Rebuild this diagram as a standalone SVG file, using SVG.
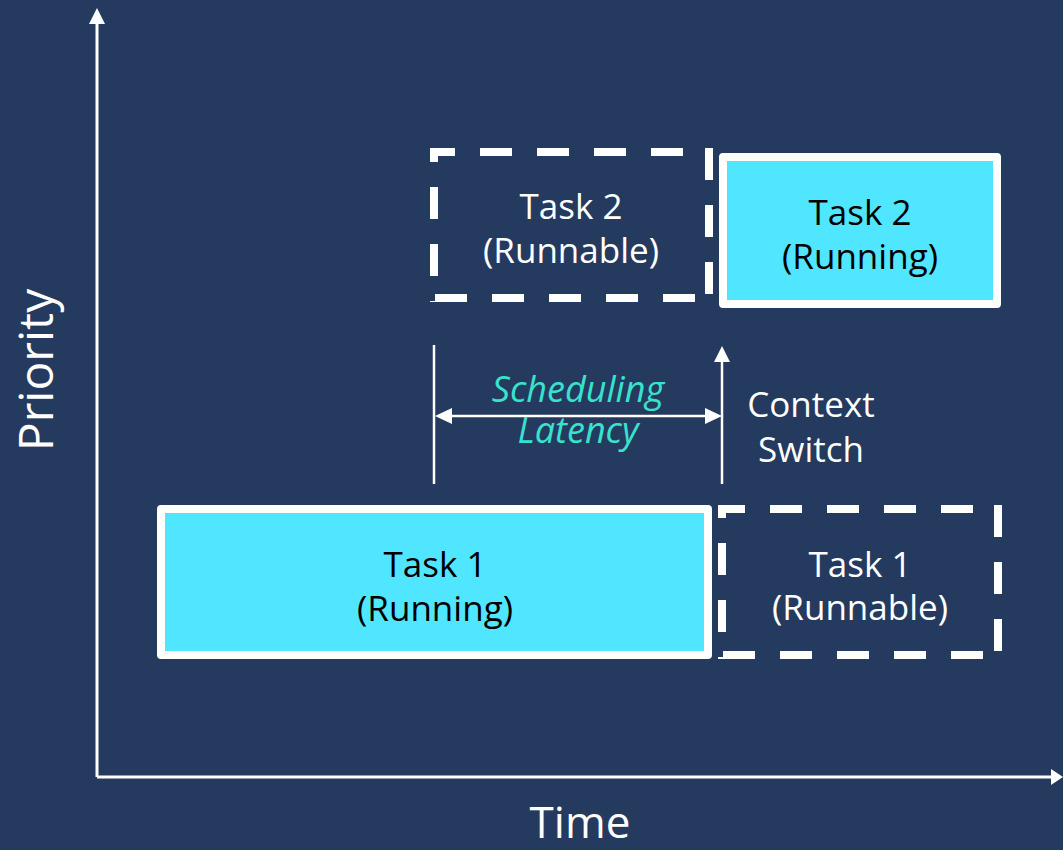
<svg xmlns="http://www.w3.org/2000/svg" width="1063" height="850" viewBox="0 0 1063 850">
  <style>
    .lbl { font-family: "Open Sans", "Noto Sans", sans-serif; font-size: 35px; text-anchor: middle; }
    .dark { fill: #000000; }
    .light { fill: #FFFFFF; }
    .solid { fill: #50E6FF; stroke: #FFFFFF; stroke-width: 8; stroke-linejoin: round; }
    .dash { stroke: #FFFFFF; stroke-width: 8; stroke-dasharray: 32 25; fill: none; }
    .thin { stroke: #FFFFFF; stroke-width: 2.5; fill: none; }
    .axis { stroke: #FFFFFF; stroke-width: 3; fill: none; }
    .head { fill: #FFFFFF; }
    .teal { font-family: "Open Sans", "Noto Sans", sans-serif; font-size: 36px; font-style: italic; fill: #38E2CD; text-anchor: middle; }
  </style>
  <rect x="0" y="0" width="1063" height="850" fill="#243A5E"/>

  <g id="axes">
    <line class="axis" x1="97" y1="777" x2="97" y2="20"/>
    <polygon class="head" points="97,8 89,24 105,24"/>
    <line class="axis" x1="97" y1="777" x2="1053" y2="777"/>
    <polygon class="head" points="1063,777 1051,769 1051,785"/>
    <text class="light" x="580" y="838" font-family="Open Sans, Noto Sans, sans-serif" font-size="44" text-anchor="middle">Time</text>
    <text class="light" transform="translate(53,370) rotate(-90)" x="0" y="0" font-family="Open Sans, Noto Sans, sans-serif" font-size="48" text-anchor="middle">Priority</text>
  </g>

  <g id="task2-runnable">
    <line class="dash" x1="430" y1="152" x2="713" y2="152" stroke-dashoffset="7"/>
    <line class="dash" x1="434" y1="148" x2="434" y2="302" stroke-dashoffset="18"/>
    <line class="dash" x1="709" y1="148" x2="709" y2="302" stroke-dashoffset="0"/>
    <line class="dash" x1="430" y1="298" x2="713" y2="298" stroke-dashoffset="52"/>
    <text class="lbl light" x="571" y="219">Task 2</text>
    <text class="lbl light" x="571" y="263">(Runnable)</text>
  </g>

  <g id="task2-running">
    <rect class="solid" x="723" y="157" width="274" height="147"/>
    <text class="lbl dark" x="860" y="225">Task 2</text>
    <text class="lbl dark" x="860" y="269">(Running)</text>
  </g>

  <g id="task1-running">
    <rect class="solid" x="161" y="509" width="547" height="146"/>
    <text class="lbl dark" x="435" y="577">Task 1</text>
    <text class="lbl dark" x="435" y="621">(Running)</text>
  </g>

  <g id="task1-runnable">
    <line class="dash" x1="718" y1="509" x2="1002" y2="509" stroke-dashoffset="5"/>
    <line class="dash" x1="722" y1="505" x2="722" y2="659" stroke-dashoffset="19"/>
    <line class="dash" x1="998" y1="505" x2="998" y2="659" stroke-dashoffset="0"/>
    <line class="dash" x1="718" y1="655" x2="1002" y2="655" stroke-dashoffset="52"/>
    <text class="lbl light" x="860" y="577">Task 1</text>
    <text class="lbl light" x="860" y="620">(Runnable)</text>
  </g>

  <g id="connectors">
    <line class="thin" x1="434" y1="345" x2="434" y2="484"/>
    <line class="thin" x1="722" y1="484" x2="722" y2="358"/>
    <polygon class="head" points="722,346 714,362 730,362"/>
    <line class="thin" x1="448" y1="416" x2="708" y2="416"/>
    <polygon class="head" points="435,416 452,408 452,424"/>
    <polygon class="head" points="722,416 705,408 705,424"/>
  </g>

  <g id="scheduling-latency">
    <text class="teal" x="578" y="402">Scheduling</text>
    <text class="teal" x="578" y="443">Latency</text>
  </g>

  <g id="context-switch">
    <text class="lbl light" x="811" y="417">Context</text>
    <text class="lbl light" x="811" y="462">Switch</text>
  </g>
</svg>
